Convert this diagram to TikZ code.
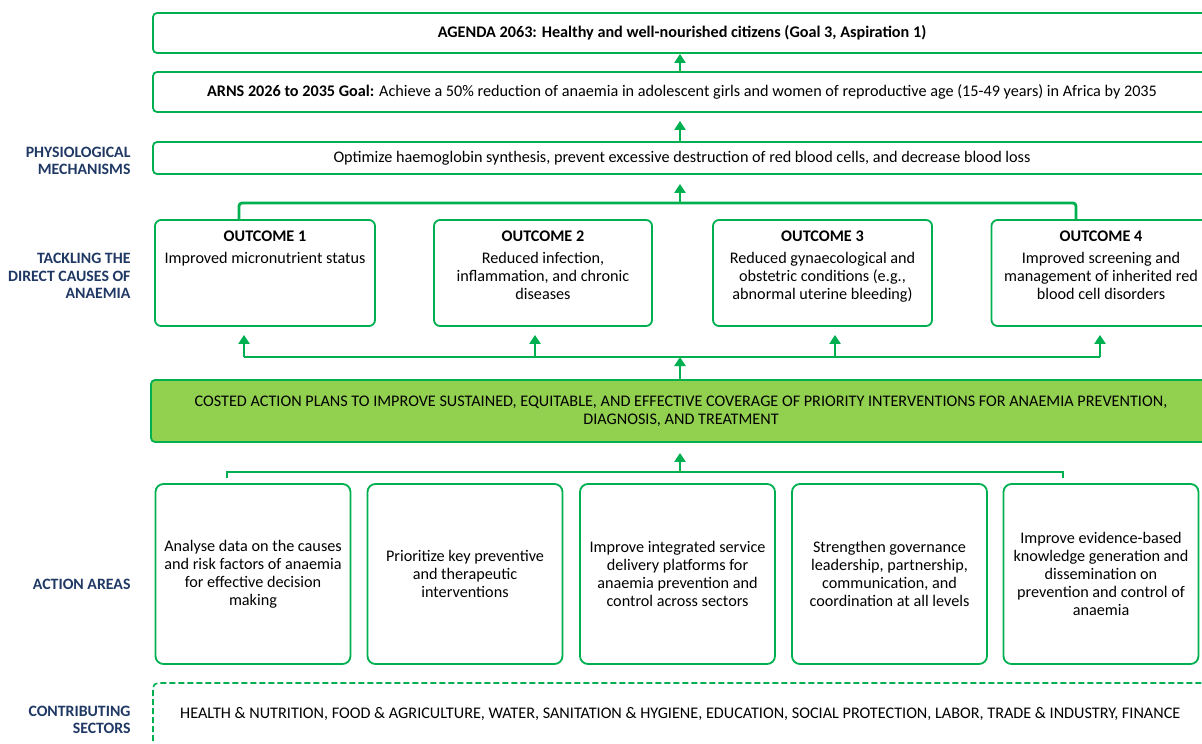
\documentclass[tikz,border=0pt]{standalone}
\usepackage{fontspec}
\setmainfont{Carlito}
\usetikzlibrary{arrows.meta,positioning,calc}
\definecolor{frame}{HTML}{00B050}
\definecolor{plangreen}{HTML}{92D050}
\definecolor{navy}{HTML}{1F3864}
\newcommand{\bodysize}{\fontsize{16.2}{18}\selectfont}
\tikzset{
  goalbox/.style={draw=frame,line width=1.8pt,rounded corners=4pt,minimum width=1058pt,inner sep=0pt},
  outbox/.style={draw=frame,line width=1.8pt,rounded corners=6pt,minimum height=106pt,inner sep=0pt},
  areabox/.style={draw=frame,line width=1.8pt,rounded corners=8pt,minimum width=195pt,minimum height=180pt,inner sep=0pt,align=center},
  rowlabel/.style={anchor=east,align=right,text=navy,font=\fontsize{15.8}{17.5}\selectfont\bfseries},
  link/.style={draw=frame,line width=2.8pt},
  arr/.style={link,-{Triangle[width=11pt,length=9pt]}},
}
\begin{document}
\begin{tikzpicture}[x=1pt,y=-1pt,font=\bodysize]
  \useasboundingbox (0,0) rectangle (1202,744);

  % goal boxes
  \node[goalbox,minimum height=40pt] (agenda) at (682,33)
    {\textbf{AGENDA 2063: Healthy and well-nourished citizens (Goal 3, Aspiration 1)}};
  \node[goalbox,minimum height=40pt] (arns) at (682,92)
    {\textbf{ARNS 2026 to 2035 Goal:} Achieve a 50\% reduction of anaemia in adolescent girls and women of reproductive age (15-49 years) in Africa by 2035};
  \node[goalbox,minimum height=32pt] (physio) at (682,158)
    {Optimize haemoglobin synthesis, prevent excessive destruction of red blood cells, and decrease blood loss};
  \draw[arr] (arns.north -| 680,0) -- (agenda.south -| 680,0);
  \draw[arr,shorten >=8pt] (physio.north -| 680,0) -- (arns.south -| 680,0);

  % outcomes
  \node[outbox,minimum width=220pt] (o1) at (265,273) {};
  \node[outbox,minimum width=218pt] (o2) at (543,273) {};
  \node[outbox,minimum width=219pt] (o3) at (822.5,273) {};
  \node[outbox,minimum width=219pt] (o4) at (1101,273) {};
  \foreach \n/\k in {o1/1,o2/2,o3/3,o4/4}
    \node[font=\bodysize\bfseries,inner sep=0pt] (\n h) at (\n.north |- 0,236) {OUTCOME \k};
  \foreach \n/\txt in {o1/Improved micronutrient status,
      o2/{Reduced infection,\\ inflammation, and chronic\\ diseases},
      o3/{Reduced gynaecological and\\ obstetric conditions (e.g.,\\ abnormal uterine bleeding)},
      o4/{Improved screening and\\ management of inherited red\\ blood cell disorders}}
    \node[anchor=north,align=center,inner sep=0pt] (\n t) at (\n.north |- 0,252) {\txt};

  \coordinate (topl) at (239,203);
  \coordinate (topr) at (1076,203);
  \draw[link,rounded corners=3pt] (o1.north -| topl) -- (topl) -- (topr) -- (o4.north -| topr);
  \draw[arr,shorten >=9pt] (680,203) -- (physio.south -| 680,0);

  % costed plan
  \node[draw=frame,fill=plangreen,line width=1.8pt,rounded corners=4pt,minimum width=1060pt,minimum height=62pt,align=center,inner sep=0pt] (plan) at (681,411)
    {COSTED ACTION PLANS TO IMPROVE SUSTAINED, EQUITABLE, AND EFFECTIVE COVERAGE OF PRIORITY INTERVENTIONS FOR ANAEMIA PREVENTION,\\ DIAGNOSIS, AND TREATMENT};
  \coordinate (midl) at (244,357);
  \coordinate (midr) at (1100,357);
  \draw[link,rounded corners=2pt] (midl) -- (midr);
  \draw[arr] (plan.north -| 680,0) -- (680,357);
  \foreach \n/\x in {o1/244,o2/535,o3/835,o4/1100}
    \draw[arr,shorten >=8pt] (\x,357) -- (\n.south -| \x,0);

  % action areas
  \node[areabox] (a1) at (253,574) {Analyse data on the causes\\ and risk factors of anaemia\\ for effective decision\\ making};
  \node[areabox] (a2) at (465,574) {Prioritize key preventive\\ and therapeutic\\ interventions};
  \node[areabox] (a3) at (677.5,574) {Improve integrated service\\ delivery platforms for\\ anaemia prevention and\\ control across sectors};
  \node[areabox] (a4) at (889.5,574) {Strengthen governance\\ leadership, partnership,\\ communication, and\\ coordination at all levels};
  \node[areabox] (a5) at (1101,574) {Improve evidence-based\\ knowledge generation and\\ dissemination on\\ prevention and control of\\ anaemia};
  \coordinate (lowl) at (227,472);
  \coordinate (lowr) at (1063,472);
  \draw[link] ([yshift=-6pt]lowl) -- (lowl) -- (lowr) -- ([yshift=-6pt]lowr);
  \draw[arr,shorten >=10pt] (680,472) -- (plan.south -| 680,0);

  % contributing sectors
  \draw[draw=frame,line width=1.6pt,dash pattern=on 6pt off 3pt,rounded corners=5pt] (153,750) -- (153,683) -- (1215,683);
  \node[anchor=west,inner sep=0pt] (sectors) at (180,714)
    {HEALTH \& NUTRITION, FOOD \& AGRICULTURE, WATER, SANITATION \& HYGIENE, EDUCATION, SOCIAL PROTECTION, LABOR, TRADE \& INDUSTRY, FINANCE};

  % row labels
  \node[rowlabel] (lphys) at (134,161) {PHYSIOLOGICAL\\ MECHANISMS};
  \node[rowlabel] (ldirect) at (134,276) {TACKLING THE\\ DIRECT CAUSES OF\\ ANAEMIA};
  \node[rowlabel] (lact) at (134,584) {ACTION AREAS};
  \node[rowlabel] (lsect) at (134,720) {CONTRIBUTING\\ SECTORS};
\end{tikzpicture}
\end{document}
